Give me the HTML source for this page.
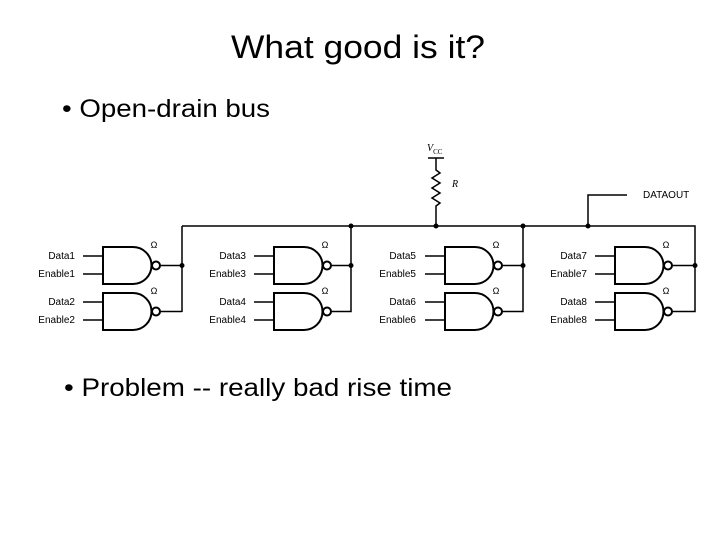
<!DOCTYPE html>
<html><head><meta charset="utf-8"><style>
html,body{margin:0;padding:0;background:#fff;}
svg{display:block;font-family:"Liberation Sans",Arial,sans-serif;}
</style></head><body>
<svg width="720" height="540" viewBox="0 0 720 540" xmlns="http://www.w3.org/2000/svg">
<text x="231" y="58" font-size="32" textLength="254" lengthAdjust="spacingAndGlyphs">What good is it?</text>
<text x="62" y="117" font-size="25" textLength="208" lengthAdjust="spacingAndGlyphs">• Open-drain bus</text>
<text x="64" y="396" font-size="25" textLength="388" lengthAdjust="spacingAndGlyphs">• Problem -- really bad rise time</text>

<g stroke="#000" fill="none" stroke-width="1.5">
<path d="M182 226 H695 V265"/>
<path d="M182 226 V312"/>
<path d="M428 158 H444"/>
<path d="M436 158 V170 l4 3 l-8 5 l8 5 l-8 5 l8 5 l-8 5 l8 5 l-4 3 V226"/>
<path d="M588 226 V195 H627"/>
</g>
<text x="427" y="151" font-size="10" font-style="italic" font-family="Liberation Serif,serif">V<tspan font-size="7" dy="3" font-style="normal">CC</tspan></text>
<text x="452" y="187" font-size="10" font-style="italic" font-family="Liberation Serif,serif">R</text>
<text x="643" y="198" font-size="10">DATAOUT</text>

<g fill="#000">
<circle cx="351" cy="226" r="2.5"/><circle cx="436" cy="226" r="2.5"/>
<circle cx="523" cy="226" r="2.5"/><circle cx="588" cy="226" r="2.5"/>
<circle cx="182" cy="265.5" r="2.5"/><circle cx="351" cy="265.5" r="2.5"/>
<circle cx="523" cy="265.5" r="2.5"/><circle cx="695" cy="265.5" r="2.5"/>
</g>

<defs>
<g id="gate">
<path d="M0 0 H30 A18.5 18.5 0 0 1 30 37 H0 Z" stroke="#000" stroke-width="2" fill="none"/>
<circle cx="53" cy="18.5" r="4" stroke="#000" stroke-width="2" fill="#fff"/>
<path d="M-20 9 H0 M-20 27 H0" stroke="#000" stroke-width="1.5"/>
<text x="51" y="1" font-size="9" text-anchor="middle">Ω</text>
</g>
</defs>

<g font-size="10" text-anchor="end">
<use href="#gate" x="103" y="247"/><use href="#gate" x="103" y="293"/>
<path d="M160 265.5 H182 M160 311.5 H182" stroke="#000" stroke-width="1.5"/>
<text x="75" y="259">Data1</text><text x="75" y="277">Enable1</text>
<text x="75" y="305">Data2</text><text x="75" y="323">Enable2</text>

<use href="#gate" x="274" y="247"/><use href="#gate" x="274" y="293"/>
<path d="M331 265.5 H351 M331 311.5 H351 V226" stroke="#000" stroke-width="1.5" fill="none"/>
<text x="246" y="259">Data3</text><text x="246" y="277">Enable3</text>
<text x="246" y="305">Data4</text><text x="246" y="323">Enable4</text>

<use href="#gate" x="445" y="247"/><use href="#gate" x="445" y="293"/>
<path d="M502 265.5 H523 M502 311.5 H523 V226" stroke="#000" stroke-width="1.5" fill="none"/>
<text x="416" y="259">Data5</text><text x="416" y="277">Enable5</text>
<text x="416" y="305">Data6</text><text x="416" y="323">Enable6</text>

<use href="#gate" x="615" y="247"/><use href="#gate" x="615" y="293"/>
<path d="M672 265.5 H695 M672 311.5 H695 V265" stroke="#000" stroke-width="1.5" fill="none"/>
<text x="587" y="259">Data7</text><text x="587" y="277">Enable7</text>
<text x="587" y="305">Data8</text><text x="587" y="323">Enable8</text>
</g>
</svg>
</body></html>
